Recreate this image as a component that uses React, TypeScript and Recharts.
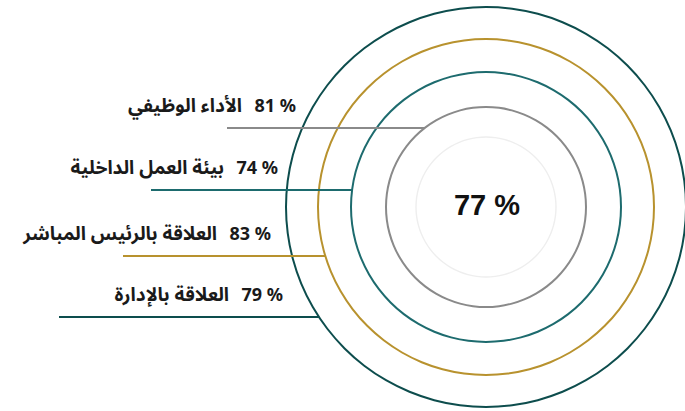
import { PieChart, Pie, Cell } from 'recharts';

// rings from the centre outwards
const labels = ['الأداء الوظيفي', 'بيئة العمل الداخلية', 'العلاقة بالرئيس المباشر', 'العلاقة بالإدارة'];
const values = [81, 74, 83, 79];
const total = 77;

const COLORS = ['#8a8a8a', '#1d6b6e', '#b8922e', '#0d4d4d'];
const RADII = [100, 135, 168, 200];
const LINE_Y = [128, 190, 256, 317];
const LINE_START = [227, 151, 123, 59];
const TEXT_RIGHT = [296, 278, 271, 283];

const W = 685;
const H = 411;
const CX = 486;
const CY = 207;

const arabicFont = '"Noto Sans Arabic", "DejaVu Sans", sans-serif';

function ringLabel(i: number) {
  return (props: any) => {
    if (props.index !== 0) return null;
    const cx = props.cx ?? CX;
    const cy = props.cy ?? CY;
    const r = ((props.innerRadius ?? RADII[i] - 1) + (props.outerRadius ?? RADII[i] + 1)) / 2;
    const y = LINE_Y[i];
    const dy = y - cy;
    const xEnd = cx - Math.sqrt(Math.max(r * r - dy * dy, 0));
    const right = TEXT_RIGHT[i];
    return (
      <g>
        <line x1={LINE_START[i]} y1={y} x2={xEnd} y2={y} stroke={COLORS[i]} strokeWidth={2} />
        <text
          x={right}
          y={y - 16}
          textAnchor="end"
          fontFamily='"Noto Sans", "Liberation Sans", sans-serif'
          fontWeight={700}
          fontSize={18}
          fill="#1a1a1a"
          style={{ direction: 'ltr' }}
        >
          {`${values[i]} %`}
        </text>
        <text
          x={right - 54}
          y={y - 16}
          textAnchor="end"
          fontFamily={arabicFont}
          fontWeight={700}
          fontSize={19}
          fill="#1a1a1a"
        >
          {labels[i]}
        </text>
      </g>
    );
  };
}

function centerLabel(props: any) {
  if (props.index !== 0) return null;
  const cx = props.cx ?? CX;
  const cy = props.cy ?? CY;
  return (
    <text
      x={cx + 1}
      y={cy + 8}
      textAnchor="middle"
      fontFamily='"Liberation Sans", Arial, sans-serif'
      fontWeight={700}
      fontSize={29}
      fill="#111"
      style={{ direction: 'ltr' }}
    >
      {`${total} %`}
    </text>
  );
}

export default function App() {
  return (
    <div style={{ position: 'absolute', left: 0, top: 0, width: W, height: H, background: '#fff' }}>
      <PieChart width={W} height={H} margin={{ top: 0, right: 0, bottom: 0, left: 0 }}>
        <Pie
          data={[{ name: 'total', value: total }]}
          dataKey="value"
          cx={CX}
          cy={CY}
          innerRadius={69.3}
          outerRadius={70.7}
          startAngle={90}
          endAngle={450}
          stroke="none"
          isAnimationActive={false}
          labelLine={false}
          label={centerLabel}
        >
          <Cell fill="#eeeeee" />
        </Pie>
        {labels.map((name, i) => (
          <Pie
            key={name}
            data={[{ name, value: values[i] }]}
            dataKey="value"
            cx={CX}
            cy={CY}
            innerRadius={RADII[i] - 1}
            outerRadius={RADII[i] + 1}
            startAngle={90}
            endAngle={450}
            stroke="none"
            isAnimationActive={false}
            labelLine={false}
            label={ringLabel(i)}
          >
            <Cell fill={COLORS[i]} />
          </Pie>
        ))}
      </PieChart>
    </div>
  );
}
